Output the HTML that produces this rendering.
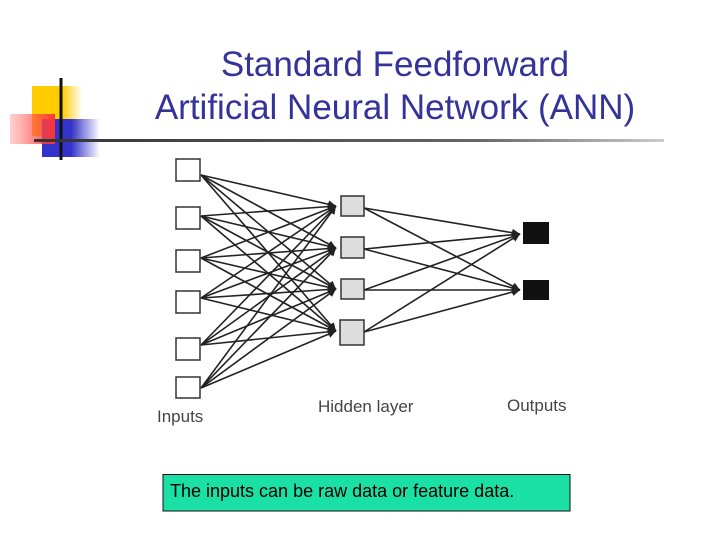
<!DOCTYPE html>
<html><head><meta charset="utf-8"><style>
html,body{margin:0;padding:0;background:#fff;}
body{width:720px;height:540px;position:relative;overflow:hidden;font-family:"Liberation Sans",sans-serif;}
.t{position:absolute;left:100px;width:590px;text-align:center;color:#333399;font-size:35px;line-height:42px;}
</style></head><body>
<div class="t" style="top:44px;">Standard Feedforward</div>
<div class="t" style="top:87px;">Artificial Neural Network (ANN)</div>
<svg width="720" height="540" style="position:absolute;left:0;top:0">
<defs>
<linearGradient id="y" x1="0" x2="1"><stop offset="0.6" stop-color="#ffcc00"/><stop offset="1" stop-color="#ffcc00" stop-opacity="0"/></linearGradient>
<linearGradient id="b" x1="0" x2="1"><stop offset="0.5" stop-color="#3333cc"/><stop offset="1" stop-color="#3333cc" stop-opacity="0"/></linearGradient>
<linearGradient id="r" x1="0" x2="1"><stop offset="0" stop-color="#ff6666" stop-opacity="0.3"/><stop offset="1" stop-color="#ff3333"/></linearGradient>
<linearGradient id="l" x1="0" x2="1"><stop offset="0" stop-color="#333"/><stop offset="0.7" stop-color="#666"/><stop offset="1" stop-color="#ccc"/></linearGradient>
<marker id="a" viewBox="0 0 10 10" refX="10" refY="5" markerWidth="5" markerHeight="5" orient="auto"><path d="M0,0L10,5L0,10z" fill="#222"/></marker>
</defs>
<rect x="32" y="86" width="50" height="50" fill="url(#y)"/>
<rect x="42" y="119" width="58" height="38" fill="url(#b)"/>
<rect x="10" y="114" width="45" height="30" fill="url(#r)"/>
<line x1="61" y1="78" x2="61" y2="160" stroke="#111" stroke-width="3"/>
<rect x="34" y="139" width="630" height="3" fill="url(#l)"/>
<g stroke="#222" stroke-width="1.6" marker-end="url(#a)">
<line x1="201" y1="175" x2="336" y2="206"/><line x1="201" y1="175" x2="336" y2="248"/><line x1="201" y1="175" x2="336" y2="289"/><line x1="201" y1="175" x2="336" y2="331"/>
<line x1="201" y1="216" x2="336" y2="206"/><line x1="201" y1="216" x2="336" y2="248"/><line x1="201" y1="216" x2="336" y2="289"/><line x1="201" y1="216" x2="336" y2="331"/>
<line x1="201" y1="258" x2="336" y2="206"/><line x1="201" y1="258" x2="336" y2="248"/><line x1="201" y1="258" x2="336" y2="289"/><line x1="201" y1="258" x2="336" y2="331"/>
<line x1="201" y1="298" x2="336" y2="206"/><line x1="201" y1="298" x2="336" y2="248"/><line x1="201" y1="298" x2="336" y2="289"/><line x1="201" y1="298" x2="336" y2="331"/>
<line x1="201" y1="345" x2="336" y2="206"/><line x1="201" y1="345" x2="336" y2="248"/><line x1="201" y1="345" x2="336" y2="289"/><line x1="201" y1="345" x2="336" y2="331"/>
<line x1="201" y1="388" x2="336" y2="206"/><line x1="201" y1="388" x2="336" y2="248"/><line x1="201" y1="388" x2="336" y2="289"/><line x1="201" y1="388" x2="336" y2="331"/>
<line x1="364" y1="208" x2="520" y2="234"/><line x1="364" y1="208" x2="520" y2="290"/>
<line x1="364" y1="249" x2="520" y2="234"/><line x1="364" y1="249" x2="520" y2="290"/>
<line x1="364" y1="290" x2="520" y2="234"/><line x1="364" y1="290" x2="520" y2="290"/>
<line x1="364" y1="332" x2="520" y2="234"/><line x1="364" y1="332" x2="520" y2="290"/>
</g>
<g fill="#fff" stroke="#333" stroke-width="1.5">
<rect x="176" y="159" width="24" height="22"/><rect x="176" y="207" width="24" height="22"/><rect x="176" y="250" width="24" height="22"/><rect x="176" y="291" width="24" height="22"/><rect x="176" y="338" width="24" height="22"/><rect x="176" y="377" width="24" height="21"/>
</g>
<g fill="#ddd" stroke="#333" stroke-width="1.5">
<rect x="341" y="196" width="23" height="20"/><rect x="341" y="237" width="23" height="21"/><rect x="341" y="279" width="23" height="20"/><rect x="340" y="320" width="24" height="25"/>
</g>
<g fill="#111"><rect x="523" y="222" width="26" height="22"/><rect x="523" y="280" width="26" height="20"/></g>
<g font-family="Liberation Sans,sans-serif" font-size="17" fill="#444">
<text x="157" y="422">Inputs</text><text x="318" y="412">Hidden layer</text><text x="507" y="411">Outputs</text>
</g>
<rect x="163" y="474.5" width="407" height="36.5" fill="#1ae0a6" stroke="#111" stroke-width="1"/>
<text x="170" y="497" font-family="Liberation Sans,sans-serif" font-size="18" fill="#000">The inputs can be raw data or feature data.</text>
</svg>
</body></html>
